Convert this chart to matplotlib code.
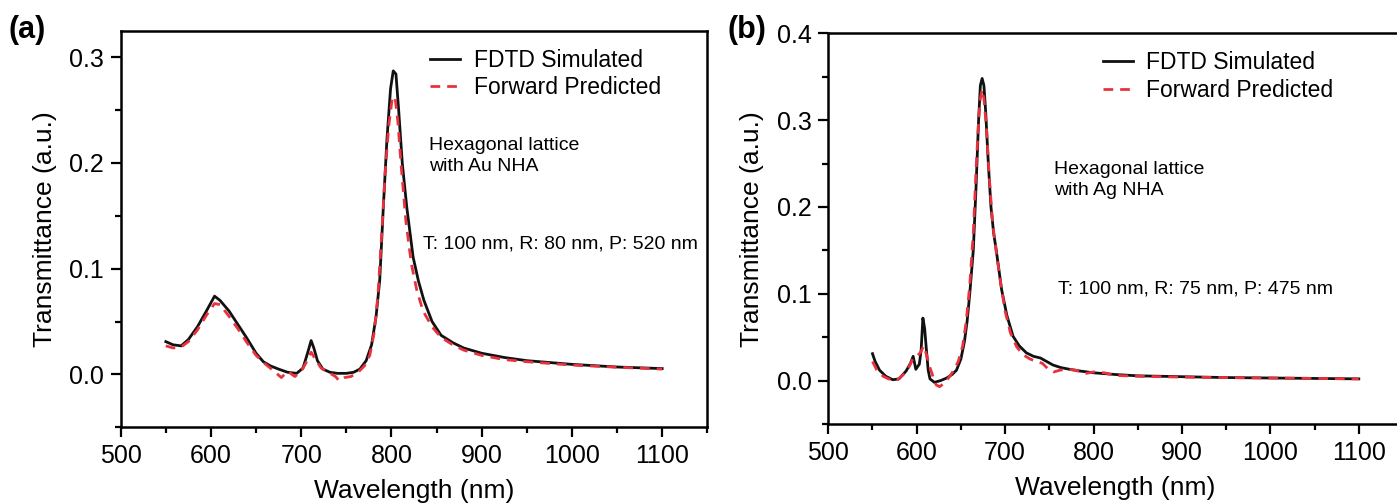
import numpy as np
import matplotlib
matplotlib.use("Agg")
import matplotlib.pyplot as plt
from matplotlib.ticker import MultipleLocator

plt.rcParams['font.family'] = ['Liberation Sans', 'DejaVu Sans']

# panel (a): Au NHA
wl_a_sim = [550, 558, 567, 575, 585, 595, 604, 610, 620, 630, 640, 650, 658, 666, 675, 685, 695,
            702, 707, 711, 714, 718, 724, 732, 740, 750, 758, 765, 772, 778, 783, 787, 791, 795,
            799, 802, 805, 808, 812, 817, 824, 830, 836, 845, 855, 868, 880, 900, 925, 950,
            1000, 1050, 1100]
t_a_sim = [0.031, 0.028, 0.027, 0.033, 0.045, 0.060, 0.074, 0.070, 0.060, 0.047, 0.034, 0.020,
           0.012, 0.008, 0.005, 0.002, 0.001, 0.006, 0.020, 0.032, 0.025, 0.013, 0.005, 0.002,
           0.001, 0.001, 0.002, 0.005, 0.013, 0.028, 0.055, 0.089, 0.158, 0.222, 0.270, 0.287,
           0.284, 0.250, 0.200, 0.158, 0.111, 0.088, 0.070, 0.050, 0.037, 0.030, 0.025, 0.020,
           0.016, 0.013, 0.0095, 0.007, 0.0055]

wl_a_pred = [550, 558, 567, 575, 585, 595, 604, 610, 620, 630, 640, 650, 660, 670, 678, 685, 693,
             700, 706, 711, 716, 722, 730, 738, 742, 748, 755, 763, 770, 776, 781, 785, 789, 793,
             797, 801, 804, 807, 811, 816, 822, 828, 835, 845, 855, 868, 880, 900, 925, 950,
             1000, 1050, 1100]
t_a_pred = [0.027, 0.025, 0.026, 0.031, 0.042, 0.056, 0.067, 0.066, 0.055, 0.043, 0.030, 0.018,
            0.010, 0.003, -0.003, 0.003, -0.002, 0.003, 0.012, 0.021, 0.014, 0.006, 0.002, -0.002,
            -0.006, -0.003, -0.002, 0.002, 0.008, 0.018, 0.040, 0.075, 0.130, 0.190, 0.235, 0.262,
            0.262, 0.240, 0.195, 0.145, 0.105, 0.080, 0.060, 0.045, 0.035, 0.028, 0.023, 0.018,
            0.014, 0.012, 0.0088, 0.0068, 0.005]

# panel (b): Ag NHA
wl_b_sim = [550, 553, 558, 565, 573, 580, 588, 593, 596, 599, 603, 605, 607, 609, 611, 613, 615,
            620, 627, 634, 640, 645, 650, 654, 657, 660, 664, 667, 670, 672, 674, 676, 678, 681,
            684, 687, 690, 696, 702, 709, 716, 724, 732, 740, 747, 754, 763, 773, 785, 800, 825,
            850, 900, 950, 1000, 1050, 1100]
t_b_sim = [0.031, 0.022, 0.012, 0.005, 0.001, 0.002, 0.011, 0.020, 0.028, 0.013, 0.019, 0.035,
           0.072, 0.060, 0.035, 0.012, 0.002, -0.002, 0.000, 0.003, 0.007, 0.012, 0.025, 0.045,
           0.068, 0.100, 0.150, 0.220, 0.300, 0.340, 0.348, 0.340, 0.310, 0.250, 0.200, 0.170,
           0.150, 0.105, 0.075, 0.051, 0.040, 0.032, 0.028, 0.026, 0.022, 0.018, 0.015, 0.013,
           0.011, 0.009, 0.007, 0.0055, 0.0045, 0.0035, 0.003, 0.0025, 0.002]

wl_b_pred = [550, 555, 562, 568, 577, 585, 591, 596, 600, 604, 608, 611, 615, 619, 622, 626, 631,
             636, 642, 647, 652, 656, 660, 664, 667, 670, 672, 674, 676, 679, 682, 686, 690, 695,
             700, 706, 713, 720, 728, 735, 742, 748, 755, 762, 770, 780, 790, 800, 812, 825, 850,
             900, 950, 1000, 1050, 1100]
t_b_pred = [0.022, 0.012, 0.005, 0.002, 0.000, 0.007, 0.015, 0.026, 0.028, 0.032, 0.040, 0.030,
            0.015, 0.003, -0.005, -0.007, -0.003, 0.003, 0.012, 0.022, 0.040, 0.068, 0.110, 0.170,
            0.240, 0.300, 0.325, 0.335, 0.325, 0.290, 0.235, 0.180, 0.148, 0.112, 0.080, 0.055,
            0.039, 0.030, 0.025, 0.022, 0.020, 0.014, 0.010, 0.012, 0.013, 0.012, 0.008, 0.010,
            0.009, 0.006, 0.005, 0.004, 0.0035, 0.003, 0.0025, 0.002]

red = '#e8323e'

fig = plt.figure(figsize=(13.97, 5.04), dpi=100)
ax1 = fig.add_axes([0.0864, 0.1522, 0.4199, 0.7869])
ax2 = fig.add_axes([0.5929, 0.1587, 0.4114, 0.7752])


def style_axes(ax, ymax):
    ax.set_xlim(500, 1150)
    ax.set_ylim(-0.05, ymax)
    ax.xaxis.set_major_locator(MultipleLocator(100))
    ax.xaxis.set_minor_locator(MultipleLocator(50))
    ax.yaxis.set_major_locator(MultipleLocator(0.1))
    ax.yaxis.set_minor_locator(MultipleLocator(0.05))
    ax.tick_params(which='major', direction='out', length=7, width=1.6, labelsize=18, pad=5)
    ax.tick_params(which='minor', direction='out', length=4, width=1.6)
    for s in ax.spines.values():
        s.set_linewidth(1.8)
    ax.set_xlabel('Wavelength (nm)', fontsize=19, labelpad=8)
    ax.set_ylabel('Transmittance (a.u.)', fontsize=19, labelpad=9)


#panel a
ax1.plot(wl_a_sim, t_a_sim, color='#111111', lw=2.0, label='FDTD Simulated')
ax1.plot(wl_a_pred, t_a_pred, color=red, lw=2.0, ls=(0, (3.5, 2.5)), label='Forward Predicted')
style_axes(ax1, 0.325)
ax1.legend(loc='upper left', bbox_to_anchor=(0.5, 0.995), frameon=False, fontsize=16.5,
           handlelength=1.3, handletextpad=0.6, labelspacing=0.2, borderaxespad=0.3)
ax1.text(0.526, 0.685, 'Hexagonal lattice\nwith Au NHA', transform=ax1.transAxes, fontsize=14,
         va='center', ha='left', linespacing=1.3)
ax1.text(0.516, 0.462, 'T: 100 nm, R: 80 nm, P: 520 nm', transform=ax1.transAxes, fontsize=14,
         va='center', ha='left')
fig.text(0.006, 0.94, '(a)', fontsize=22, fontweight='bold', va='center', ha='left')

#panel b
ax2.plot(wl_b_sim, t_b_sim, color='#111111', lw=2.0, label='FDTD Simulated')
ax2.plot(wl_b_pred, t_b_pred, color=red, lw=2.0, ls=(0, (3.5, 2.5)), label='Forward Predicted')
style_axes(ax2, 0.4)
ax2.legend(loc='upper left', bbox_to_anchor=(0.45, 0.995), frameon=False, fontsize=16.5,
           handlelength=1.3, handletextpad=0.6, labelspacing=0.2, borderaxespad=0.3)
ax2.text(0.393, 0.625, 'Hexagonal lattice\nwith Ag NHA', transform=ax2.transAxes, fontsize=14,
         va='center', ha='left', linespacing=1.3)
ax2.text(0.40, 0.345, 'T: 100 nm, R: 75 nm, P: 475 nm', transform=ax2.transAxes, fontsize=14,
         va='center', ha='left')
fig.text(0.521, 0.94, '(b)', fontsize=22, fontweight='bold', va='center', ha='left')

fig.savefig('out.png', dpi=100)
